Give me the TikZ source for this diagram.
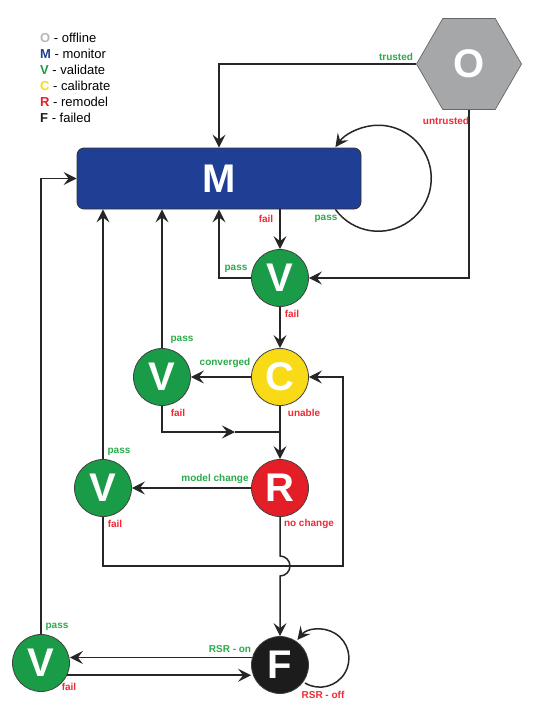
\documentclass[tikz,border=0pt]{standalone}
\usepackage{fontspec}
\setmainfont{Liberation Sans}
\usetikzlibrary{shapes.geometric,arrows.meta}
\definecolor{mblue}{HTML}{1F3F94}
\definecolor{vgreen}{HTML}{1A9B48}
\definecolor{cyel}{HTML}{F9DA17}
\definecolor{rred}{HTML}{E41E26}
\definecolor{fblack}{HTML}{1C1C1C}
\definecolor{ogray}{HTML}{A6A7A9}
\definecolor{lgray}{HTML}{B8B8B8}
\definecolor{lgreen}{HTML}{2BAA4A}
\definecolor{lred}{HTML}{EE2A35}
\begin{document}
\begin{tikzpicture}[x=1pt,y=1pt,
  arr/.style={-{Stealth[length=13pt,width=13pt,inset=5pt]},line width=1.5pt,draw=black!85},
  ln/.style={line width=1.5pt,draw=black!85},
  st/.style={circle,draw=black!75,line width=0.8pt,minimum size=57pt,inner sep=0pt,text=white,font=\bfseries\fontsize{40}{40}\selectfont},
  lg/.style={font=\bfseries\fontsize{10}{10}\selectfont,text=lgreen},
  lr/.style={font=\bfseries\fontsize{10}{10}\selectfont,text=lred}]
\useasboundingbox (0,0) rectangle (558,-712);
% key
\foreach \l/\c/\t [count=\i from 0] in {O/lgray/offline,M/mblue/monitor,V/vgreen/validate,C/cyel/calibrate,R/rred/remodel,F/fblack/failed}
  \node[anchor=west,inner sep=0pt,font=\fontsize{13}{13}\selectfont] (key\l) at (40,-38-16*\i) {\textbf{\textcolor{\c}{\l}} - \t};
% states
\node[regular polygon,regular polygon sides=6,minimum size=105pt,inner sep=0pt,fill=ogray,draw=black!60,line width=0.7pt,text=white,font=\bfseries\fontsize{40}{40}\selectfont] (off) at (469,-64) {O};
\node[rectangle,rounded corners=7pt,minimum width=284pt,minimum height=61pt,fill=mblue,draw=black!80,line width=0.8pt,text=white,font=\bfseries\fontsize{40}{40}\selectfont] (mon) at (219,-178.5) {M};
\node[st,fill=vgreen] (val1) at (280,-278) {V};
\node[st,fill=cyel] (cal) at (280,-377) {C};
\node[st,fill=vgreen] (val2) at (162,-377) {V};
\node[st,fill=rred] (rem) at (280,-488) {R};
\node[st,fill=vgreen] (val3) at (103,-488) {V};
\node[st,fill=fblack] (fld) at (280,-665) {F};
\node[st,fill=vgreen] (val4) at (41,-663) {V};
% helper points
\coordinate (jn) at (280,-432);
\coordinate (vmid) at (235,-432);
\coordinate (cret) at (343,-566);
\coordinate (hop) at (280,-556);
% connectors
\draw[arr] (off.west) -| (mon.north);
\draw[arr] (off.south) |- (val1.east);
\draw[arr] ([xshift=-26pt]mon.south east) arc[start angle=-144,end angle=144,radius=53];
\draw[arr] (val1.north |- mon.south) -- (val1.north);
\draw[arr] (val1.west) -| (mon.south);
\draw[arr] (val1.south) -- (cal.north);
\draw[arr] (cal.west) -- (val2.east);
\draw[arr] (val2.north) -- (val2.north |- mon.south);
\draw[arr] (val2.south) |- (vmid);
\draw[ln] (vmid) -- (jn);
\draw[arr] (cal.south) -- (rem.north);
\draw[arr] (rem.west) -- (val3.east);
\draw[arr] (val3.north) -- (val3.north |- mon.south);
\draw[arr] (val3.south) |- (cret) |- (cal.east);
\draw[arr] (rem.south) -- (hop) arc[start angle=90,end angle=-90,radius=10] -- (fld.north);
\draw[arr] (val4.north) |- (mon.west);
\draw[arr] (fld.165) -- (val4.east |- fld.165);
\draw[arr] (val4.-25) -- (val4.-25 -| fld.west);
\draw[arr] ([xshift=25pt,yshift=-18pt]fld.center) arc[start angle=-121,end angle=141,radius=29];
% labels
\node[lg] (tTrust) at (396,-57) {trusted};
\node[lr] (tUntr) at (446,-121) {untrusted};
\node[lg] (tPass0) at (326,-219) {pass};
\node[lr] (tFail0) at (266,-219) {fail};
\node[lg] (tPass1) at (236,-269) {pass};
\node[lr] (tFail1) at (292,-314) {fail};
\node[lg] (tPass2) at (182,-340) {pass};
\node[lg] (tConv) at (225,-363) {converged};
\node[lr] (tFail2) at (178,-413) {fail};
\node[lr] (tUnab) at (304,-413) {unable};
\node[lg] (tPass3) at (119,-452) {pass};
\node[lg] (tModel) at (215,-479) {model change};
\node[lr] (tFail3) at (115,-524) {fail};
\node[lr] (tNoch) at (309,-524) {no change};
\node[lg] (tPass4) at (57,-627) {pass};
\node[lg] (tOn) at (230,-649) {RSR - on};
\node[lr] (tFail4) at (69,-687) {fail};
\node[lr] (tOff) at (323,-695) {RSR - off};
\end{tikzpicture}
\end{document}
